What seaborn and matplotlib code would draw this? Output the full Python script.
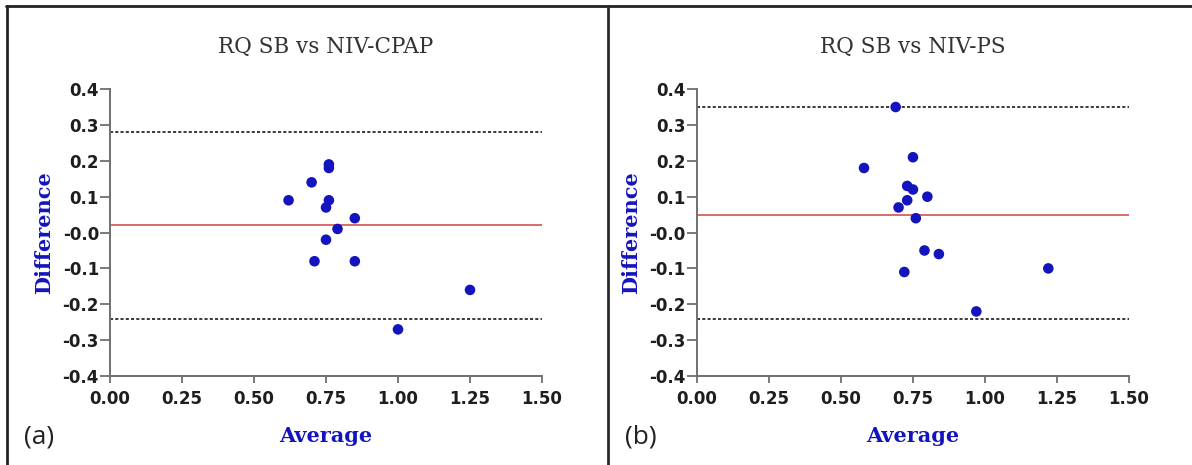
"""Bland-Altman plots of RQ: spontaneous breathing vs NIV-CPAP / NIV-PS."""

import matplotlib.pyplot as plt
import pandas as pd
import seaborn as sns
from matplotlib.lines import Line2D

# panel (a): RQ SB vs NIV-CPAP
cpap_avg = [0.62, 0.70, 0.76, 0.76, 0.76, 0.75, 0.85, 0.79, 0.75, 0.71, 0.85, 1.25, 1.00]
cpap_diff = [0.09, 0.14, 0.19, 0.18, 0.09, 0.07, 0.04, 0.01, -0.02, -0.08, -0.08, -0.16, -0.27]
cpap_bias = 0.02
cpap_loa = [0.28, -0.24]

# panel (b): RQ SB vs NIV-PS
ps_avg = [0.69, 0.58, 0.75, 0.73, 0.75, 0.80, 0.73, 0.70, 0.76, 0.79, 0.84, 0.72, 1.22, 0.97]
ps_diff = [0.35, 0.18, 0.21, 0.13, 0.12, 0.10, 0.09, 0.07, 0.04, -0.05, -0.06, -0.11, -0.10, -0.22]
ps_bias = 0.05
ps_loa = [0.35, -0.24]

titles = ["RQ SB vs NIV-CPAP", "RQ SB vs NIV-PS"]
panel_tags = ["(a)", "(b)"]
x_ticks = [0.0, 0.25, 0.5, 0.75, 1.0, 1.25, 1.5]
x_labels = ["0.00", "0.25", "0.50", "0.75", "1.00", "1.25", "1.50"]
y_ticks = [-0.4, -0.3, -0.2, -0.1, 0.0, 0.1, 0.2, 0.3, 0.4]
y_labels = ["-0.4", "-0.3", "-0.2", "-0.1", "-0.0", "0.1", "0.2", "0.3", "0.4"]

sns.set_theme(style="ticks")
plt.rcParams["font.family"] = ["DejaVu Sans"]

BLUE = "#1414be"
SPINE = "#707070"

fig = plt.figure(figsize=(11.92, 4.65), dpi=100)

panels = [
    (cpap_avg, cpap_diff, cpap_bias, cpap_loa, [0.0923, 0.1914, 0.3624, 0.617], 0.020),
    (ps_avg, ps_diff, ps_bias, ps_loa, [0.5847, 0.1914, 0.3624, 0.617], 0.524),
]

for i, (avg, diff, bias, loa, rect, tag_x) in enumerate(panels):
    ax = fig.add_axes(rect)
    df = pd.DataFrame({"Average": avg, "Difference": diff})
    ax.axhline(bias, color="#d86a6a", lw=1.4, zorder=1)
    for v in loa:
        ax.axhline(v, color="#3a3a3a", lw=1.4, ls=(0, (1.6, 1.1)), zorder=1)
    sns.scatterplot(data=df, x="Average", y="Difference", ax=ax,
                    color=BLUE, s=58, edgecolor="none", zorder=3)
    ax.set_xlim(0, 1.5)
    ax.set_ylim(-0.4, 0.4)
    ax.set_xticks(x_ticks, x_labels)
    ax.set_yticks(y_ticks, y_labels)
    sns.despine(ax=ax)
    for s in ("left", "bottom"):
        ax.spines[s].set_color(SPINE)
        ax.spines[s].set_linewidth(1.4)
    ax.tick_params(direction="out", width=1.3, color=SPINE,
                   labelsize=12, labelcolor="#1e1e1e")
    ax.tick_params(axis="y", length=7, pad=1)
    ax.tick_params(axis="x", length=5, pad=5)
    for lab in ax.get_xticklabels() + ax.get_yticklabels():
        lab.set_fontweight("bold")
    ax.set_xlabel("Average", family="DejaVu Serif", fontweight="bold",
                  fontsize=15, color=BLUE, labelpad=13)
    ax.set_ylabel("Difference", family="DejaVu Serif", fontweight="bold",
                  fontsize=15, color=BLUE, labelpad=6)
    ax.set_title(titles[i], family="DejaVu Serif", fontsize=15.5,
                 color="#333333", pad=26)
    fig.text(tag_x, 0.06, panel_tags[i], family="Open Sans", fontsize=19,
             color="#222222", ha="left", va="center")

# frame lines around the figure panels
fig.add_artist(Line2D([0.005, 1.0], [0.987, 0.987], color="#222222", lw=2.0))
fig.add_artist(Line2D([0.0055, 0.0055], [0.0, 0.987], color="#222222", lw=2.0))
fig.add_artist(Line2D([0.510, 0.510], [0.0, 0.987], color="#2a2a2a", lw=2.0))

fig.savefig("out.png", dpi=100)
